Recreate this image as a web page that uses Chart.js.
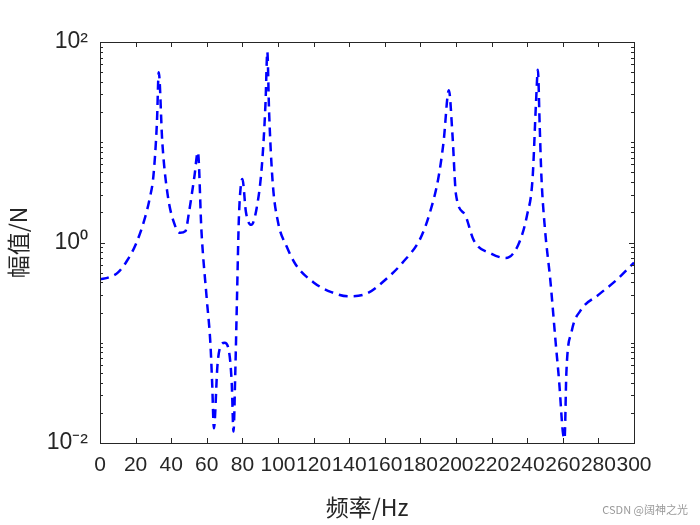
<!DOCTYPE html>
<html><head><meta charset="utf-8">
<script src="https://cdn.jsdelivr.net/npm/chart.js@4"></script>
<style>html,body{margin:0;background:#fff}#w{width:700px;height:525px;position:relative}
#wm{position:absolute;right:12px;bottom:8px;font:11px "Noto Sans CJK SC",sans-serif;color:#999}</style>
</head><body><div id="w"><canvas id="c" width="700" height="525"></canvas><div id="wm">CSDN @阔神之光</div></div>
<script>
const freq = [0,5,10,15,20,25,28,30,32,33,35,38,42,45,48,50,53,55,57,60,62,63,64,66,68,70,72,74,75,76,77,78,79,80,82,85,88,91,93,94,95,97,100,105,110,120,130,140,150,160,170,180,185,190,193,196,198,200,205,210,220,228,235,240,243,245,246,247,248,250,253,256,258,260,261,262,265,270,280,290,300];
const amp  = [0.43,0.45,0.5,0.65,0.95,1.7,2.8,4.6,16,50,10,3,1.5,1.25,1.3,2.0,4.5,8,1.3,0.27,0.1,0.04,0.014,0.06,0.095,0.1,0.09,0.04,0.013,0.05,0.3,1.7,3.5,4.3,2.0,1.5,2.2,6,25,80,20,4,1.6,0.9,0.6,0.4,0.32,0.29,0.31,0.42,0.63,1.1,1.9,4.3,10,33,12,3,1.9,1.05,0.77,0.7,0.95,1.9,4.3,26,53,15,4.5,1.35,0.42,0.1,0.04,0.013,0.011,0.05,0.13,0.21,0.3,0.42,0.63];
const xTicks = [0,20,40,60,80,100,120,140,160,180,200,220,240,260,280,300];
const yLabels = {0.01:'10⁻²',1:'10⁰',100:'10²'};
const pts = freq.map((f,i)=>({x:f,y:amp[i]}));
const frame = {id:'frame',afterDraw(ch){const a=ch.chartArea,c=ch.ctx,sx=ch.scales.x,sy=ch.scales.y;c.save();c.strokeStyle='#262626';c.lineWidth=1;
c.strokeRect(a.left+0.5,a.top+0.5,a.right-a.left,a.bottom-a.top);c.beginPath();
xTicks.forEach(t=>{const p=Math.round(sx.getPixelForValue(t))+0.5;c.moveTo(p,a.bottom);c.lineTo(p,a.bottom-5);c.moveTo(p,a.top);c.lineTo(p,a.top+5);});
for(let e=-2;e<2;e++)for(let m=1;m<10;m++){const v=m*Math.pow(10,e);const p=Math.round(sy.getPixelForValue(v))+0.5;const L=(m===1&&(e%2===0))?5:3;c.moveTo(a.left,p);c.lineTo(a.left+L,p);c.moveTo(a.right,p);c.lineTo(a.right-L,p);}
c.stroke();c.restore();}};
new Chart(document.getElementById('c'),{type:'line',data:{datasets:[{data:pts,borderColor:'#0000ff',borderWidth:2.5,borderDash:[9,6],pointRadius:0,fill:false,cubicInterpolationMode:'monotone'}]},
options:{responsive:false,animation:false,layout:{padding:{top:42,right:66,left:0,bottom:0}},plugins:{legend:{display:false},tooltip:{enabled:false}},
scales:{x:{type:'linear',min:0,max:300,afterBuildTicks(s){s.ticks=xTicks.map(v=>({value:v}));},grid:{display:false},border:{display:false},
ticks:{color:'#262626',font:{family:'Liberation Sans',size:21},maxRotation:0,autoSkip:false,padding:2},
title:{display:true,text:'频率/Hz',color:'#262626',font:{family:'Noto Sans CJK SC',size:23},padding:{top:0}},afterFit(s){s.height=82;}},
y:{type:'logarithmic',min:0.01,max:100,afterBuildTicks(s){s.ticks=[0.01,1,100].map(v=>({value:v}));},grid:{display:false},border:{display:false},
ticks:{color:'#262626',font:{family:'Liberation Sans',size:23},callback:v=>yLabels[v]||'',padding:4},
title:{display:true,text:'幅值/N',color:'#262626',font:{family:'Noto Sans CJK SC',size:23},padding:{bottom:2}},afterFit(s){s.width=100;}}}},plugins:[frame]});
</script></body></html>
